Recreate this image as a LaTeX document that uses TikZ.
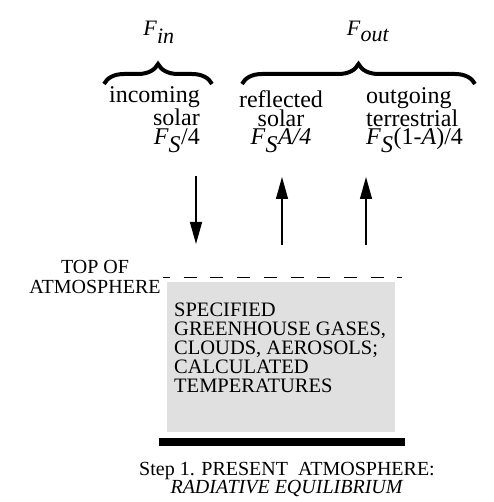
\documentclass[tikz,border=0pt]{standalone}
\usepackage{fontspec}
\setmainfont{Liberation Serif}
\usetikzlibrary{arrows.meta,decorations.pathreplacing,positioning}

\definecolor{boxgray}{HTML}{E0E0E0}
\newcommand{\FS}{\textit{F}$_{\textit{S}}$}

\tikzset{
  flux/.style={font=\fontsize{22}{22}\selectfont, inner sep=0pt, anchor=base},
  fluxlabel/.style={font=\fontsize{24}{19.5}\selectfont, inner sep=0pt},
  fluxarrow/.style={line width=1.3pt, -{Triangle[length=22pt,width=12pt]}},
  fluxbrace/.style={decorate, decoration={brace,amplitude=20pt}, line width=4pt},
  plaintext/.style={font=\fontsize{20}{20}\selectfont, inner sep=0pt, align=center},
}

\begin{document}
\begin{tikzpicture}[x=1pt,y=-1pt]
  \useasboundingbox (0,0) rectangle (493,502);

  \node[flux] (fin)  at (159,36) {\textit{F}$_{\textit{in}}$};
  \node[flux] (fout) at (368,36) {\textit{F}$_{\textit{out}}$};

  \coordinate (b1) at (104,84);
  \coordinate (b2) at (212,84);
  \coordinate (b3) at (242,84);
  \coordinate (b4) at (475,84);
  \draw[fluxbrace] (b1) -- (b2);
  \draw[fluxbrace] (b3) -- (b4);

  \node[fluxlabel, align=right, anchor=base east] (incoming) at (200,145)
    {incoming\\solar\\\FS/4};
  \node[fluxlabel, font=\fontsize{24}{18.5}\selectfont, align=center, anchor=base] (reflected) at (281,145)
    {reflected\\solar\\\FS\textit{A/4}};
  \node[fluxlabel, font=\fontsize{24}{18.5}\selectfont, align=left, anchor=base west] (outgoing) at (366,145)
    {outgoing\\terrestrial\\\FS(1-\textit{A})/4};

  \coordinate (p1) at (196,176);
  \coordinate (p2) at (196,244);
  \coordinate (p3) at (282,245);
  \coordinate (p4) at (282,177);
  \coordinate (p5) at (366,245);
  \coordinate (p6) at (366,177);
  \draw[fluxarrow] (p1) -- (p2);
  \draw[fluxarrow] (p3) -- (p4);
  \draw[fluxarrow] (p5) -- (p6);

  \node[plaintext, anchor=base] (toa) at (95,293) {TOP OF\\ATMOSPHERE};
  \coordinate (t1) at (163,277);
  \coordinate (t2) at (402,277);
  \draw[line width=1pt, dash pattern=on 13pt off 13.7pt, dash phase=6pt] (t1) -- (t2);

  \node[fill=boxgray, minimum width=228pt, minimum height=150pt, inner sep=0pt,
        anchor=north west] (atmos) at (167,282) {};
  \node[font=\fontsize{20.5}{18.8}\selectfont, inner sep=0pt, align=left,
        anchor=base west] (spec) at (174,392)
    {SPECIFIED\\GREENHOUSE GASES,\\CLOUDS, AEROSOLS;\\CALCULATED\\TEMPERATURES};

  \node[fill=black, minimum width=246pt, minimum height=8pt, inner sep=0pt,
        anchor=north] (ground) at (282,438) {};

  \node[plaintext, font=\fontsize{20}{18}\selectfont, anchor=base] (step) at (287,493)
    {Step 1. PRESENT~~ATMOSPHERE:\\\textit{RADIATIVE EQUILIBRIUM}};
\end{tikzpicture}
\end{document}
